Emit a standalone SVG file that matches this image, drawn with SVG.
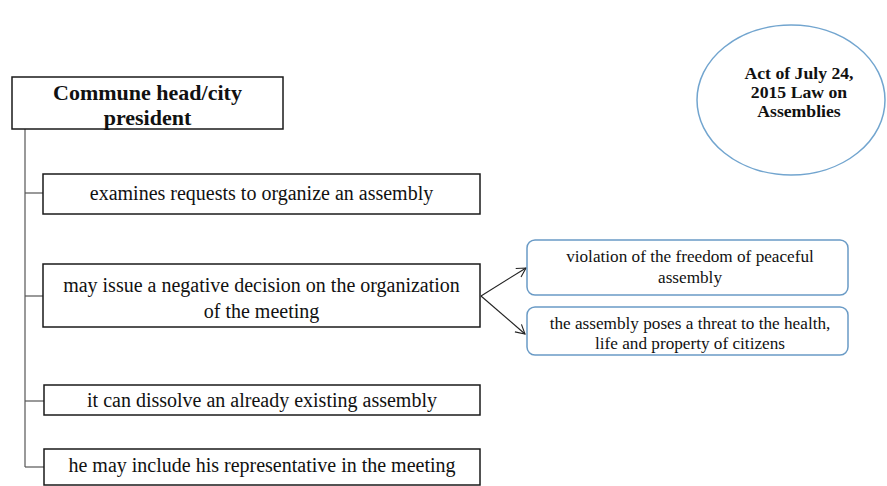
<svg xmlns="http://www.w3.org/2000/svg" width="887" height="486" viewBox="0 0 887 486">
<defs>
<style>
.box{fill:#fff;stroke:#1a1a1a;stroke-width:1.5}
.rbox{fill:#fff;stroke:#6a9bc6;stroke-width:1.5}
.t{font-family:"Liberation Serif","Times New Roman",serif;font-size:20px;fill:#111;text-anchor:middle}
.ts{font-family:"Liberation Serif","Times New Roman",serif;font-size:17.2px;fill:#111;text-anchor:middle}
.tb{font-family:"Liberation Serif","Times New Roman",serif;font-weight:bold;fill:#111;text-anchor:middle}
.line{fill:none;stroke:#555;stroke-width:1.2}
.arr{fill:none;stroke:#222;stroke-width:1.1}
</style>
<marker id="ah" markerWidth="12" markerHeight="12" refX="10" refY="6" orient="auto" markerUnits="userSpaceOnUse">
<path d="M1,1 L10,6 L1,11" fill="none" stroke="#222" stroke-width="1.1"/>
</marker>
</defs>
<rect width="887" height="486" fill="#fff"/>
<g id="connectors">
<path class="line" d="M25,129 V467"/>
<path class="line" d="M25,193 H43"/>
<path class="line" d="M25,296 H43"/>
<path class="line" d="M25,401 H44"/>
<path class="line" d="M25,467 H44"/>
<path class="arr" d="M481,296 L526,268" marker-end="url(#ah)"/>
<path class="arr" d="M481,296 L525,334" marker-end="url(#ah)"/>
</g>
<g id="head">
<rect class="box" x="12" y="77" width="271" height="52"/>
<text class="tb" x="147.5" y="100" font-size="22">Commune head/city</text>
<text class="tb" x="147.5" y="125" font-size="22">president</text>
</g>
<g id="law">
<ellipse cx="791" cy="100" rx="94" ry="75" fill="#fff" stroke="#72a5cf" stroke-width="1.5"/>
<text class="tb" x="799" y="79" font-size="17.7">Act of July 24,</text>
<text class="tb" x="799" y="98" font-size="17.7">2015 Law on</text>
<text class="tb" x="799" y="117" font-size="17.7">Assemblies</text>
</g>
<g id="n1">
<rect class="box" x="43" y="174" width="437" height="40"/>
<text class="t" x="261.5" y="200">examines requests to organize an assembly</text>
</g>
<g id="n2">
<rect class="box" x="43" y="264" width="437" height="63"/>
<text class="t" x="261.5" y="292">may issue a negative decision on the organization</text>
<text class="t" x="261.5" y="318">of the meeting</text>
</g>
<g id="n3">
<rect class="box" x="44" y="385" width="436" height="30"/>
<text class="t" x="262" y="407">it can dissolve an already existing assembly</text>
</g>
<g id="n4">
<rect class="box" x="44" y="449" width="436" height="36"/>
<text class="t" x="262" y="472">he may include his representative in the meeting</text>
</g>
<g id="r1">
<rect class="rbox" x="527" y="240" width="321" height="55" rx="8"/>
<text class="ts" x="690" y="262">violation of the freedom of peaceful</text>
<text class="ts" x="690" y="283">assembly</text>
</g>
<g id="r2">
<rect class="rbox" x="527" y="307" width="321" height="48" rx="8"/>
<text class="ts" x="690" y="329">the assembly poses a threat to the health,</text>
<text class="ts" x="690" y="349">life and property of citizens</text>
</g>
</svg>
